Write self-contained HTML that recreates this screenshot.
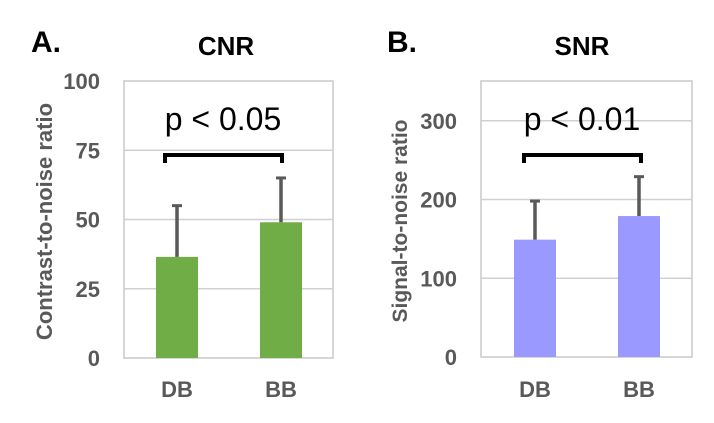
<!DOCTYPE html>
<html><head><meta charset="utf-8"><style>
body{margin:0;background:#fff;}
svg text{font-family:"Liberation Sans",sans-serif;}
</style></head><body>
<svg width="714" height="418" viewBox="0 0 714 418">
<g id="chartA"></g>
<g id="chartB"></g>
</svg>
<script>
const categories = ["DB", "BB"];
const cnrValues = [36.5, 49];
const cnrErrors = [18.5, 16];
const cnrTicks = [0, 25, 50, 75, 100];
const snrValues = [149, 179];
const snrErrors = [49, 50];
const snrTicks = [0, 100, 200, 300];
const NS = "http://www.w3.org/2000/svg";
function mk(parent, tag, attrs, txt){
  const e = document.createElementNS(NS, tag);
  for (const k in attrs) e.setAttribute(k, attrs[k]);
  if (txt !== undefined) e.textContent = txt;
  parent.appendChild(e);
  return e;
}
function drawChart(g, cfg){
  const {x0,x1,y0,y1,max,ticks,vals,errs,color,barX,barW,letter,letterX,title,titleX,yTitle,yTitleX,yTitleSize,pText,pX,brL,brR} = cfg;
  const y = v => y1 - (v/max)*(y1-y0);
  let e;
  e = mk(g,"rect",{x:x0,y:y0,width:x1-x0,height:y1-y0,fill:"none",stroke:"#c8c8c8","stroke-width":1.5});
  
  
  ticks.forEach(t=>{
    if (t>0 && y(t)>y0+2){
      e = mk(g,"line",{x1:x0,x2:x1,y1:y(t),y2:y(t),stroke:"#d0d0d0","stroke-width":1.5});
      
      
    }
    e = mk(g,"text",{x:x0-24,y:y(t)+8,"text-anchor":"end","font-size":22,"font-weight":"bold",fill:"#595959"},String(t));
    
    
  });
  vals.forEach((v,i)=>{
    const cx = barX[i] + barW/2;
    e = mk(g,"rect",{x:barX[i],y:y(v),width:barW,height:y1-y(v),fill:color});
    
    
    e = mk(g,"line",{x1:cx,x2:cx,y1:y(v),y2:y(v+errs[i]),stroke:"#595959","stroke-width":3.5});
    
    
    e = mk(g,"line",{x1:cx-5,x2:cx+5,y1:y(v+errs[i]),y2:y(v+errs[i]),stroke:"#595959","stroke-width":3});
    
    
    e = mk(g,"text",{x:cx,y:397,"text-anchor":"middle","font-size":22,"font-weight":"bold",fill:"#595959"},categories[i]);
    
    
  });
  e = mk(g,"text",{x:letterX,y:52,"font-size":30,"font-weight":"bold",fill:"#000"},letter);
  
  
  e = mk(g,"text",{x:titleX,y:55,"text-anchor":"middle","font-size":26,"font-weight":"bold",fill:"#000"},title);
  
  
  e = mk(g,"text",{x:0,y:0,"text-anchor":"middle","font-size":yTitleSize,"font-weight":"bold",fill:"#595959",transform:`translate(${yTitleX},${(y0+y1)/2+2}) rotate(-90)`},yTitle);
  
  
  e = mk(g,"text",{x:pX,y:130,"text-anchor":"middle","font-size":32,fill:"#000"},pText);
  
  
  e = mk(g,"path",{d:`M${brL},163 V155 H${brR} V163`,fill:"none",stroke:"#000","stroke-width":4});
  
  
}
drawChart(document.getElementById("chartA"),{x0:124,x1:333,y0:81,y1:358,max:100,ticks:cnrTicks,vals:cnrValues,errs:cnrErrors,color:"#70ad47",barX:[156,260],barW:42,letter:"A.",letterX:31,title:"CNR",titleX:226,yTitle:"Contrast-to-noise ratio",yTitleX:52,yTitleSize:22,pText:"p < 0.05",pX:223,brL:165,brR:282});
drawChart(document.getElementById("chartB"),{x0:481,x1:692,y0:81,y1:357,max:350.5,ticks:snrTicks,vals:snrValues,errs:snrErrors,color:"#9999ff",barX:[514,618],barW:42,letter:"B.",letterX:387,title:"SNR",titleX:582,yTitle:"Signal-to-noise ratio",yTitleX:407,yTitleSize:21,pText:"p < 0.01",pX:582,brL:524,brR:641});
</script>
</body></html>
